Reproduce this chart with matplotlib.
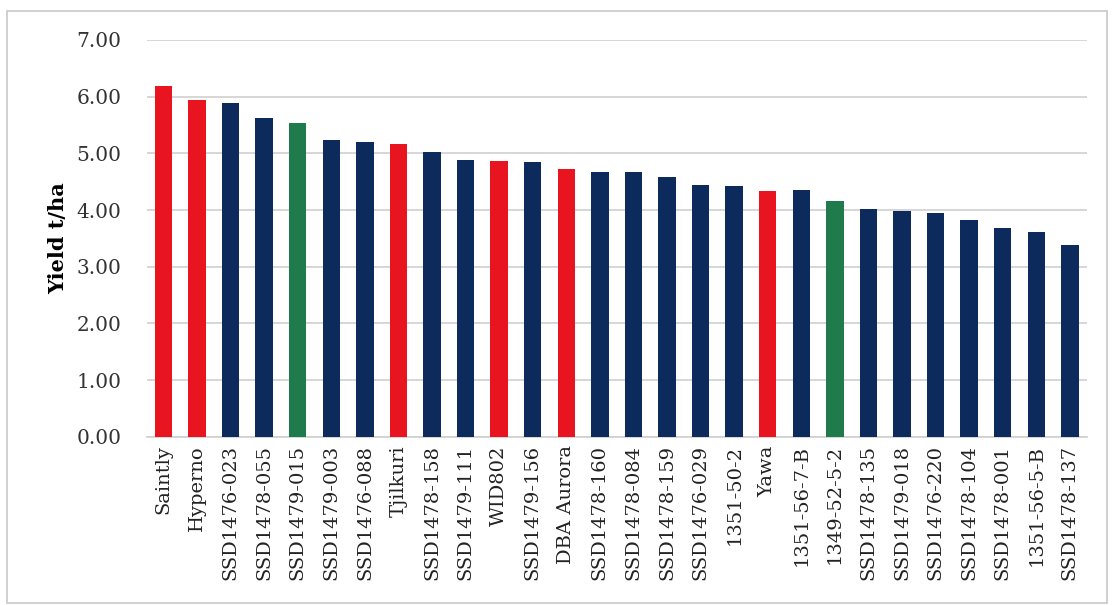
import matplotlib.pyplot as plt
import matplotlib.patches as mpatches
import numpy as np

# Grain yield of lines and varieties, sorted high to low
lines = ["Saintly", "Hyperno", "SSD1476-023", "SSD1478-055", "SSD1479-015",
         "SSD1479-003", "SSD1476-088", "Tjilkuri", "SSD1478-158", "SSD1479-111",
         "WID802", "SSD1479-156", "DBA Aurora", "SSD1478-160", "SSD1478-084",
         "SSD1478-159", "SSD1476-029", "1351-50-2", "Yawa", "1351-56-7-B",
         "1349-52-5-2", "SSD1478-135", "SSD1479-018", "SSD1476-220", "SSD1478-104",
         "SSD1478-001", "1351-56-5-B", "SSD1478-137"]
yields = [6.18, 5.94, 5.89, 5.63, 5.54, 5.23, 5.20, 5.16, 5.02, 4.89,
          4.86, 4.85, 4.73, 4.67, 4.67, 4.59, 4.45, 4.42, 4.33, 4.35,
          4.16, 4.02, 3.98, 3.94, 3.82, 3.68, 3.62, 3.38]
# v = released variety, g = green-marked line, s = SSD line
groups = ["v", "v", "s", "s", "g", "s", "s", "v", "s", "s",
          "v", "s", "v", "s", "s", "s", "s", "s", "v", "s",
          "g", "s", "s", "s", "s", "s", "s", "s"]

group_colors = {"v": "#e8141f", "g": "#1f7a4c", "s": "#0c2a5b"}
colors = [group_colors[g] for g in groups]

plt.rcParams["font.family"] = ["DejaVu Serif"]

fig = plt.figure(figsize=(11.14, 6.05), dpi=100)
ax = fig.add_axes([0.1317, 0.278, 0.8437, 0.656])

x = np.arange(len(lines))
ax.bar(x, yields, width=0.52, color=colors, zorder=3)

ax.set_xlim(-0.5, len(lines) - 0.5)
ax.set_ylim(0, 7)
ax.set_yticks(np.arange(0, 7.5, 1))
ax.set_yticklabels(["%.2f" % v for v in np.arange(0, 7.5, 1)], fontsize=14.5, color="#333333")
ax.set_xticks(x)
ax.set_xticklabels(lines, rotation=90, fontsize=14, color="#222222")
ax.tick_params(axis="both", length=0)
ax.tick_params(axis="y", pad=18)
ax.tick_params(axis="x", pad=6)
ax.grid(axis="y", color="#cfcfcf", linewidth=1.2, zorder=0)

for side in ["top", "right", "left"]:
    ax.spines[side].set_visible(False)
ax.spines["bottom"].set_color("#cfcfcf")
ax.spines["bottom"].set_linewidth(1.2)

ax.set_ylabel("Yield t/ha", fontsize=15, fontweight="bold", labelpad=6)

# light frame round the chart
fig.patches.append(mpatches.Rectangle((0.006, 0.004), 0.988, 0.978,
                                      transform=fig.transFigure, fill=False,
                                      edgecolor="#c8c8c8", linewidth=1.2))

fig.savefig("out.png", dpi=100, facecolor="white")
